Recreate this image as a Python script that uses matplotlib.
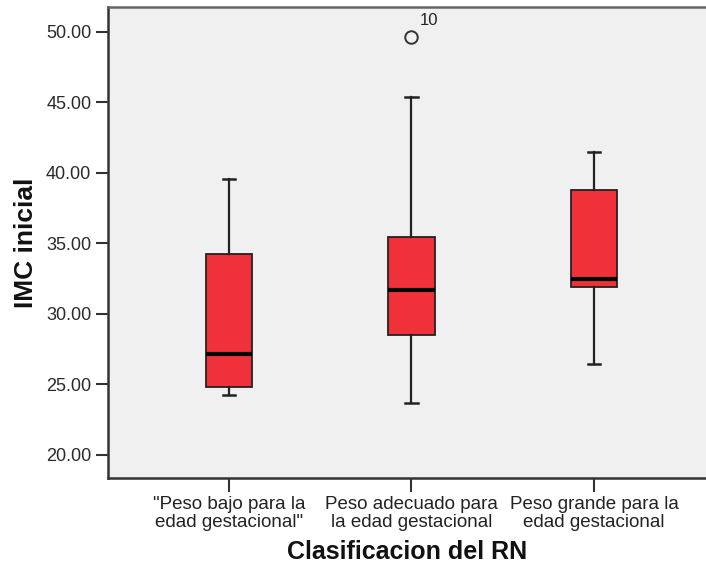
import matplotlib
matplotlib.use("Agg")
import matplotlib.pyplot as plt

categories = ['"Peso bajo para la\nedad gestacional"',
              'Peso adecuado para\nla edad gestacional',
              'Peso grande para la\nedad gestacional']
whislo = [24.23, 23.64, 26.43]
q1 = [24.80, 28.49, 31.91]
med = [27.16, 31.68, 32.48]
q3 = [34.23, 35.46, 38.77]
whishi = [39.55, 45.35, 41.45]
outliers = [[], [49.65], []]
outlier_labels = [[], ["10"], []]
yticks = [20, 25, 30, 35, 40, 45, 50]

plt.rcParams['font.family'] = ['Liberation Sans', 'DejaVu Sans']

fig = plt.figure(figsize=(7.06, 5.67), dpi=100)
ax = fig.add_axes([108/706, 1-478/567, 1-108/706, (478-7)/567])
ax.set_facecolor('#F0F0F0')
fig.patch.set_facecolor('white')

stats = []
for i in range(3):
    stats.append(dict(whislo=whislo[i], q1=q1[i], med=med[i], q3=q3[i],
                      whishi=whishi[i], fliers=outliers[i]))
pos = [1, 2, 3]
ax.bxp(stats, positions=pos, widths=0.257, patch_artist=True,
       boxprops=dict(facecolor='#F0313A', edgecolor='#222222', linewidth=1.3),
       medianprops=dict(color='black', linewidth=3),
       whiskerprops=dict(color='#222222', linewidth=1.6),
       capprops=dict(color='#222222', linewidth=1.8),
       capwidths=0.07,
       flierprops=dict(marker='o', markersize=9, markerfacecolor='none',
                       markeredgecolor='#333333', markeredgewidth=1.4),
       manage_ticks=False, zorder=3)

for i in range(3):
    for v, lab in zip(outliers[i], outlier_labels[i]):
        ax.annotate(lab, (pos[i], v), xytext=(6, 6), textcoords='offset points',
                    fontsize=12, color='#222222', ha='left', va='bottom')

ax.set_xlim(1 - 121/182.5, 3 + 112/182.5)
ax.set_ylim(18.35, 51.75)
ax.set_yticks(yticks)
ax.set_yticklabels([f"{v:.2f}" for v in yticks], fontsize=13, color='#2a2a2a')
ax.set_xticks(pos)
ax.set_xticklabels(categories, fontsize=13.5, color='#222222', linespacing=1.05)
ax.tick_params(axis='y', length=9, width=1.5, color='#333333', pad=3)
ax.tick_params(axis='x', length=10, width=1.5, color='#333333', pad=3)

for s in ['left', 'bottom']:
    ax.spines[s].set_color('#333333')
    ax.spines[s].set_linewidth(1.8)
ax.spines['top'].set_color('#666666')
ax.spines['top'].set_linewidth(1.8)
ax.spines['right'].set_visible(False)

ax.set_ylabel('IMC inicial', fontsize=19, fontweight='bold', color='#111111', labelpad=6)
ax.set_xlabel('Clasificacion del RN', fontsize=18, fontweight='bold', color='#111111', labelpad=7)

fig.savefig('out.png', dpi=100)
